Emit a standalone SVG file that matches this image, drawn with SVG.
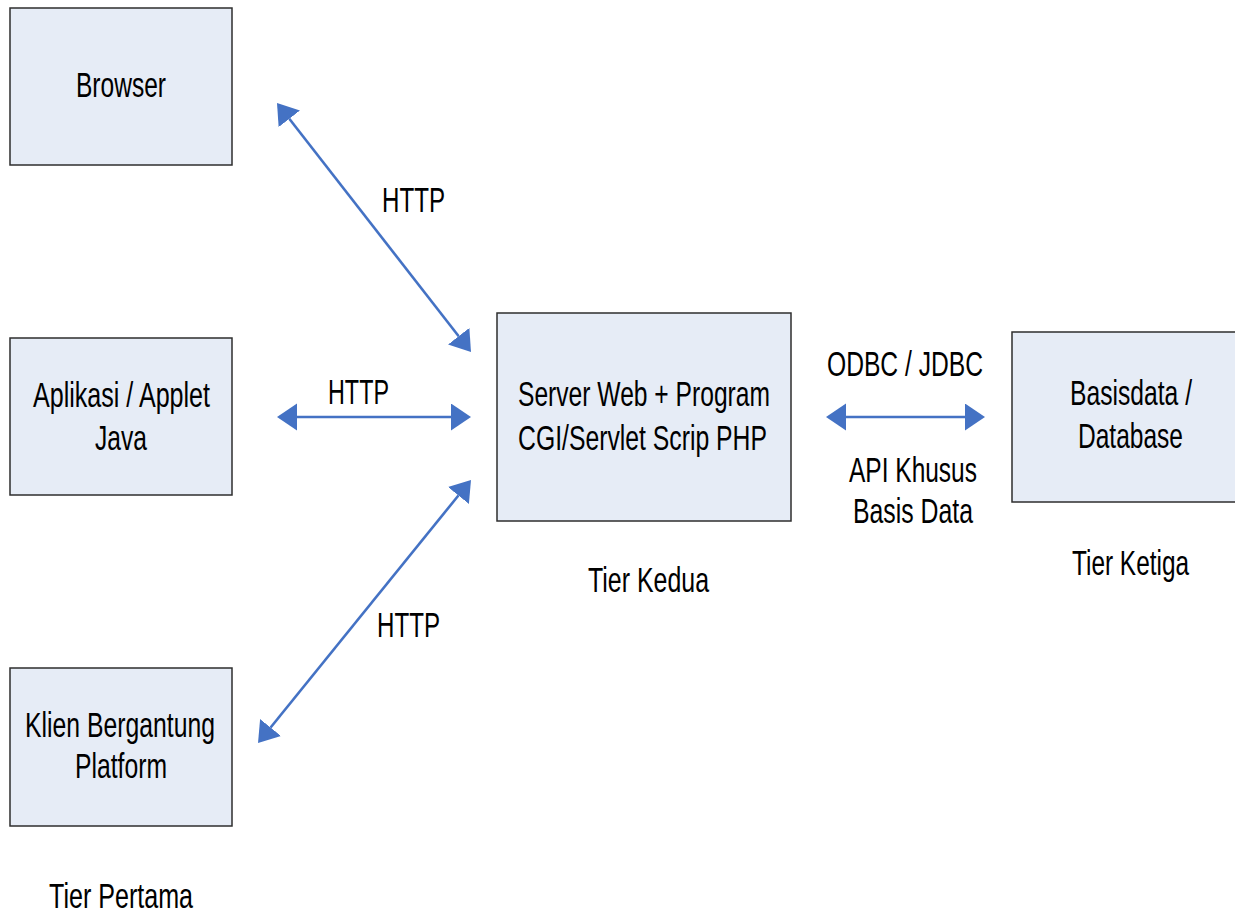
<svg xmlns="http://www.w3.org/2000/svg" width="1235" height="913" viewBox="0 0 1235 913">
<style>
.box{fill:#E6ECF6;stroke:#2e2e2e;stroke-width:1.5}
.t{font-family:"Liberation Sans",Arial,sans-serif;font-size:35px;fill:#000}
.c{fill:none;stroke:#4472C4;stroke-width:2.6}
</style>
<defs>
<marker id="ah" markerUnits="userSpaceOnUse" markerWidth="22" markerHeight="28" refX="0" refY="13.5" orient="auto-start-reverse">
<path d="M0,0 L20,13.5 L0,27 Z" fill="#4472C4"/>
</marker>
</defs>
<rect width="1235" height="913" fill="#fff"/>
<g id="browser">
<rect class="box" x="10" y="8" width="222" height="157"/>
<text class="t" x="76" y="97" textLength="90" lengthAdjust="spacingAndGlyphs">Browser</text>
</g>
<g id="aplikasi">
<rect class="box" x="10" y="338" width="222" height="157"/>
<text class="t" x="33" y="407" textLength="177" lengthAdjust="spacingAndGlyphs">Aplikasi / Applet</text>
<text class="t" x="95" y="450" textLength="52" lengthAdjust="spacingAndGlyphs">Java</text>
</g>
<g id="klien">
<rect class="box" x="10" y="668" width="222" height="158"/>
<text class="t" x="25" y="737" textLength="190" lengthAdjust="spacingAndGlyphs">Klien Bergantung</text>
<text class="t" x="75" y="778" textLength="92" lengthAdjust="spacingAndGlyphs">Platform</text>
</g>
<g id="server">
<rect class="box" x="497" y="313" width="294" height="208"/>
<text class="t" x="518" y="406" textLength="252" lengthAdjust="spacingAndGlyphs">Server Web + Program</text>
<text class="t" x="518" y="450" textLength="249" lengthAdjust="spacingAndGlyphs">CGI/Servlet Scrip PHP</text>
</g>
<g id="database">
<rect class="box" x="1012" y="332" width="230" height="170"/>
<text class="t" transform="translate(1070,405) scale(0.705,1)" x="0" y="0">Basisdata /</text>
<text class="t" x="1078" y="448" textLength="105" lengthAdjust="spacingAndGlyphs">Database</text>
</g>
<g id="tier-labels">
<text class="t" x="49" y="908" textLength="144" lengthAdjust="spacingAndGlyphs">Tier Pertama</text>
<text class="t" x="588" y="592" textLength="121" lengthAdjust="spacingAndGlyphs">Tier Kedua</text>
<text class="t" transform="translate(1072,575) scale(0.697,1)" x="0" y="0">Tier Ketiga</text>
</g>
<g id="connectors">
<line class="c" x1="289.3" y1="118.8" x2="458.7" y2="336.2" marker-start="url(#ah)" marker-end="url(#ah)"/>
<line class="c" x1="297" y1="417" x2="451" y2="417" marker-start="url(#ah)" marker-end="url(#ah)"/>
<line class="c" x1="458.4" y1="495.5" x2="270.6" y2="727.5" marker-start="url(#ah)" marker-end="url(#ah)"/>
<line class="c" x1="846" y1="417" x2="965" y2="417" marker-start="url(#ah)" marker-end="url(#ah)"/>
<text class="t" x="382" y="212" textLength="63" lengthAdjust="spacingAndGlyphs">HTTP</text>
<text class="t" x="328" y="404" textLength="61" lengthAdjust="spacingAndGlyphs">HTTP</text>
<text class="t" x="377" y="637" textLength="63" lengthAdjust="spacingAndGlyphs">HTTP</text>
<text class="t" x="827" y="376" textLength="156" lengthAdjust="spacingAndGlyphs">ODBC / JDBC</text>
<text class="t" x="849" y="482" textLength="128" lengthAdjust="spacingAndGlyphs">API Khusus</text>
<text class="t" x="853" y="523" textLength="120" lengthAdjust="spacingAndGlyphs">Basis Data</text>
</g>
</svg>
